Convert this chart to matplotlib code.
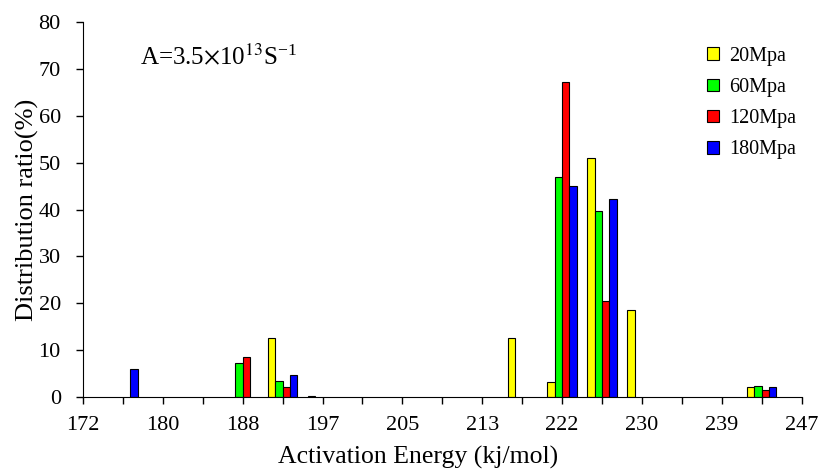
import matplotlib
matplotlib.use("Agg")
import matplotlib.pyplot as plt
import numpy as np

plt.rcParams['font.family'] = ['Liberation Serif', 'DejaVu Serif']
plt.rcParams['mathtext.fontset'] = 'stix'

# category positions 0..18 along the energy axis, labels on every other one
tick_labels = ["172", "180", "188", "197", "205", "213", "222", "230", "239", "247"]
series_names = ["20Mpa", "60Mpa", "120Mpa", "180Mpa"]
colors = ["#ffff00", "#00ff00", "#ff0000", "#0000ff"]

p20 = [0, 0, 0, 0, 0, 12.5, 0.3, 0, 0, 0, 0, 12.5, 3.1, 51.0, 18.6, 0, 0, 2.1, 0]
p60 = [0, 0, 0, 0, 7.3, 3.5, 0, 0, 0, 0, 0, 0, 47.0, 39.6, 0, 0, 0, 2.4, 0]
p120 = [0, 0, 0, 0, 8.5, 2.1, 0, 0, 0, 0, 0, 0, 67.3, 20.5, 0, 0, 0, 1.6, 0]
p180 = [0, 5.9, 0, 0, 0, 4.7, 0, 0, 0, 0, 0, 0, 45.0, 42.2, 0, 0, 0, 2.1, 0]
series = [p20, p60, p120, p180]

fig = plt.figure(figsize=(8.18, 4.70), dpi=100)
ax = fig.add_axes([0.1015, 0.1553, 0.8785, 0.7977])

x = np.arange(len(p20))
w = 0.183
for i, (vals, name, c) in enumerate(zip(series, series_names, colors)):
    v = np.array(vals)
    m = v > 0
    ax.bar(x[m] + (i - 1.5) * w, v[m], width=w, color=c, edgecolor="black",
           linewidth=0.8, label=name)

ax.set_xlim(0, 18)
ax.set_ylim(0, 80)
ax.set_yticks(np.arange(0, 81, 10))
ax.set_xticks(np.arange(0, 19, 2))
ax.set_xticklabels(tick_labels)
ax.set_xticks(np.arange(1, 19, 2), minor=True)

for s in ["top", "right"]:
    ax.spines[s].set_visible(False)
ax.tick_params(axis="both", which="both", direction="out", length=5, width=1,
               labelsize=16)
ax.tick_params(axis="x", pad=9)
ax.tick_params(axis="y", pad=11)

ax.set_xlabel("Activation Energy (kj/mol)", fontsize=18.5, labelpad=10)
ax.xaxis.set_label_coords(0.466, -0.13)
ax.set_ylabel("Distribution ratio(%)", fontsize=19, labelpad=0)

ax.text(0.079, 0.907, r"A=3.5$\times$10$^{13}$S$^{\mathregular{-1}}$",
        transform=ax.transAxes, fontsize=18, va="center")

ax.legend(loc="upper right", bbox_to_anchor=(1.017, 0.982), frameon=False,
          fontsize=14.5, handlelength=0.6, handleheight=0.6, labelspacing=0.6,
          handletextpad=0.5)

fig.savefig("out.png", dpi=100)
